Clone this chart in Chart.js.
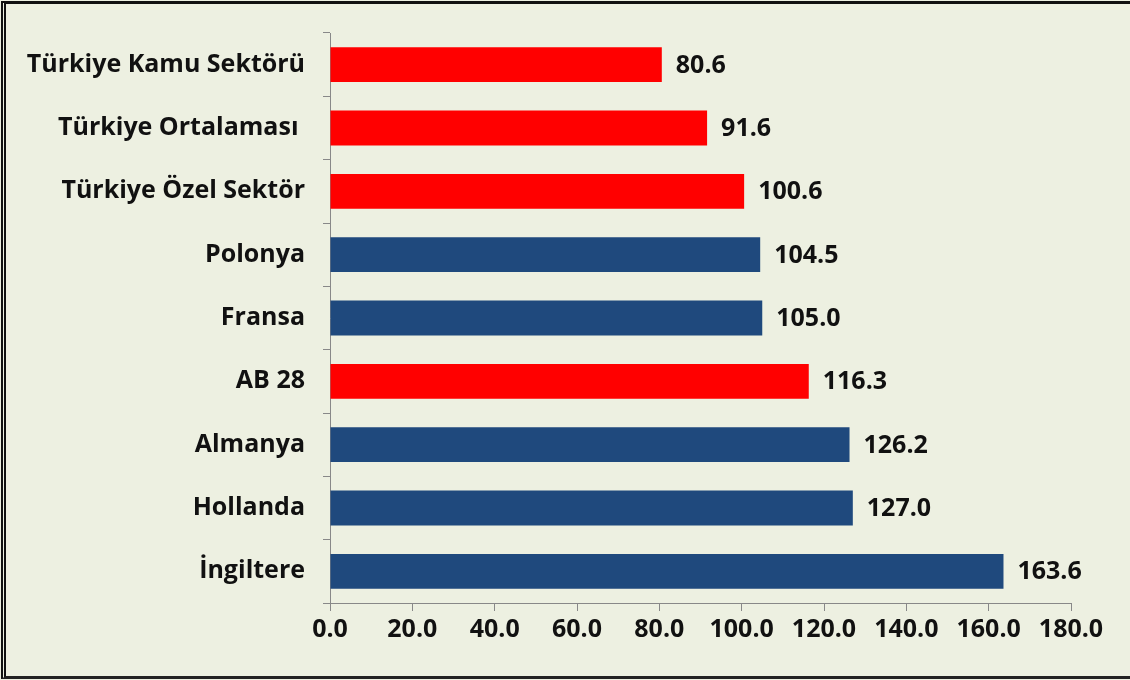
<!DOCTYPE html>
<html>
<head>
<meta charset="utf-8">
<script src="https://cdn.jsdelivr.net/npm/chart.js@4"></script>
<style>
  html, body { margin: 0; padding: 0; background: #edf0e1; }
  .wrap { position: relative; width: 1130px; height: 680px; }
  .wrap canvas { position: absolute; left: 0; top: 0; }
  .frame {
    position: absolute; left: 1px; top: 1px; right: 0; bottom: 1px;
    border-top: 3px solid #111; border-left: 5px double #111; border-bottom: 3px solid #222;
    pointer-events: none;
  }
</style>
</head>
<body>
<div class="wrap">
  <canvas id="chart" width="1130" height="680"></canvas>
  <div class="frame"></div>
</div>
<script>
const categories = ['Türkiye Kamu Sektörü', 'Türkiye Ortalaması ', 'Türkiye Özel Sektör', 'Polonya', 'Fransa', 'AB 28', 'Almanya', 'Hollanda', 'İngiltere'];
const values = [80.6, 91.6, 100.6, 104.5, 105.0, 116.3, 126.2, 127.0, 163.6];
const highlighted = ['Türkiye Kamu Sektörü', 'Türkiye Ortalaması ', 'Türkiye Özel Sektör', 'AB 28'];
const xTicks = [0, 20, 40, 60, 80, 100, 120, 140, 160, 180];

const FONT = "'Open Sans', 'Noto Sans', sans-serif";

// value labels to the right of each bar
const valueLabels = {
  id: 'valueLabels',
  afterDatasetsDraw(chart) {
    const ctx = chart.ctx;
    const meta = chart.getDatasetMeta(0);
    ctx.save();
    ctx.font = `bold 25px ${FONT}`;
    ctx.fillStyle = '#111';
    ctx.textAlign = 'left';
    ctx.textBaseline = 'middle';
    meta.data.forEach((bar, i) => {
      ctx.fillText(values[i].toFixed(1), bar.x + 14, bar.y + 1);
    });
    ctx.restore();
  }
};

new Chart(document.getElementById('chart'), {
  type: 'bar',
  data: {
    labels: categories,
    datasets: [{
      data: values,
      backgroundColor: categories.map(c => highlighted.includes(c) ? '#ff0000' : '#1f497d'),
      borderWidth: 0,
      categoryPercentage: 1,
      barPercentage: 0.55,
    }],
  },
  options: {
    indexAxis: 'y',
    responsive: false,
    animation: false,
    layout: { padding: { left: 0, right: 59, top: 32, bottom: 28 } },
    plugins: { legend: { display: false }, tooltip: { enabled: false } },
    scales: {
      x: {
        min: 0, max: 180,
        afterBuildTicks: s => { s.ticks = xTicks.map(v => ({ value: v })); },
        afterFit: s => { s.height = 49; },
        grid: { drawOnChartArea: false, tickLength: 8, color: '#888' },
        border: { color: '#888', width: 1 },
        ticks: {
          color: '#111', padding: 4,
          font: { family: FONT, size: 25, weight: 'bold' },
          callback: v => Number(v).toFixed(1),
          maxRotation: 0, autoSkip: false,
        },
      },
      y: {
        afterFit: s => { s.width = 330; },
        grid: { drawOnChartArea: false, tickLength: 7, color: '#888', offset: true },
        border: { color: '#888', width: 1 },
        ticks: {
          color: '#111', padding: 18,
          font: { family: FONT, size: 25, weight: 'bold' },
        },
      },
    },
  },
  plugins: [valueLabels],
});
</script>
</body>
</html>
